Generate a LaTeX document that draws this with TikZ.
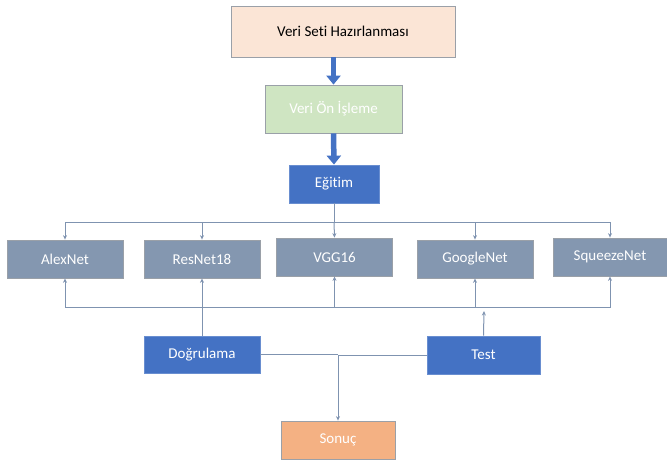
\documentclass[tikz,border=0pt]{standalone}
\usepackage{fontspec}
\setmainfont[Ligatures={NoCommon}]{Carlito}
\usetikzlibrary{arrows.meta}
\definecolor{peach}{HTML}{FBE5D6}
\definecolor{lgreen}{HTML}{CFE5C2}
\definecolor{mblue}{HTML}{4472C4}
\definecolor{slate}{HTML}{8497B0}
\definecolor{orng}{HTML}{F4B183}
\definecolor{edge}{HTML}{9AA0A8}
\definecolor{wire}{HTML}{7F93B0}
\tikzset{
  box/.style={draw=edge, line width=0.8pt, inner sep=0pt, font=\fontsize{15}{18}\selectfont, text=white},
  netbox/.style={box, fill=slate, minimum width=116pt, minimum height=38pt},
  bluebox/.style={box, fill=mblue, draw=mblue!80!white},
  thick arrow/.style={draw=mblue, line width=5.5pt, -{Triangle[width=14pt,length=9pt]}},
  conn/.style={draw=wire, line width=1pt},
  tip/.style={-{Stealth[length=4.5pt,width=4pt]}}
}
\begin{document}
\begin{tikzpicture}[x=1pt,y=-1pt]
\useasboundingbox (0,0) rectangle (667,463);
\node[box, fill=peach, text=black, minimum width=224pt, minimum height=51pt] (veri) at (343,31.5) {Veri Seti Hazırlanması};
\node[box, fill=lgreen, minimum width=137pt, minimum height=48pt] (on) at (333.5,109) {Veri Ön İşleme};
\node[bluebox, minimum width=90pt, minimum height=38pt] (egitim) at (334,184) {Eğitim};
\node[netbox] (alex) at (65,259) {AlexNet};
\node[netbox] (res) at (202,259) {ResNet18};
\node[netbox] (vgg) at (334.5,257) {VGG16};
\node[netbox] (goog) at (475,259) {GoogleNet};
\node[netbox, minimum width=114pt] (sq) at (610,257) {SqueezeNet};
\node[bluebox, minimum width=116pt, minimum height=37pt] (dog) at (202,354.5) {Doğrulama};
\node[bluebox, minimum width=113pt, minimum height=38pt] (test) at (483.5,355) {Test};
\node[box, fill=orng, minimum width=114pt, minimum height=38pt] (son) at (338,440) {Sonuç};
% thick arrows
\draw[thick arrow] (veri.south -| on.north) -- (on.north);
\draw[thick arrow] (on.south) -- (egitim.north);
% top bus
\coordinate (bt) at (334,222);
\draw[conn] (egitim.south) -- (bt);
\draw[conn,tip] (bt) -| (alex.north);
\draw[conn,tip] (bt) -| (res.north);
\draw[conn,tip] (bt) -- (vgg.north);
\draw[conn,tip] (bt) -| (goog.north);
\draw[conn,tip] (bt) -| (sq.north);
% bottom bus
\coordinate (bd) at (202,307);
\draw[conn] (dog.north) -- (bd);
\draw[conn,tip] (bd) -| (alex.south);
\draw[conn,tip] (bd) -- (res.south);
\draw[conn,tip] (bd) -| (vgg.south);
\draw[conn,tip] (bd) -| (goog.south);
\draw[conn,tip] (bd) -| (sq.south);
\coordinate (bte) at (484,311);
\draw[conn,tip] (test.north) -- (bte);
% result
\coordinate (sj) at (338,355);
\draw[conn] (dog.east) -- (dog.east -| sj);
\draw[conn] (test.west) -- (sj);
\draw[conn,tip] (sj) -- (son.north);
\end{tikzpicture}
\end{document}
